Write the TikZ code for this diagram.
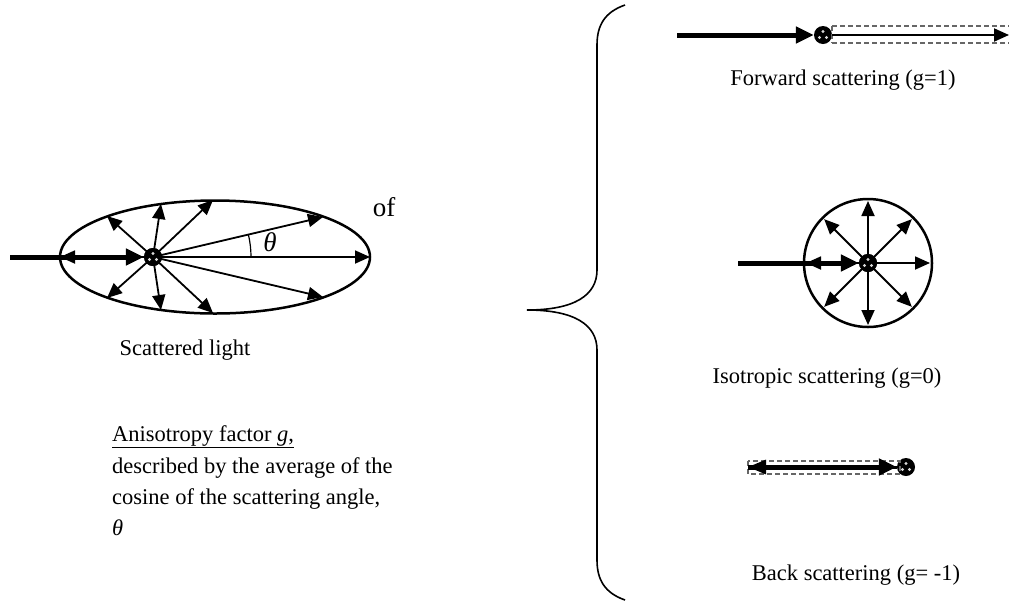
\documentclass[tikz,border=0pt]{standalone}
\usepackage{fontspec}
\setmainfont{Liberation Serif}
\usetikzlibrary{arrows.meta}
\tikzset{
  lbl/.style={font=\fontsize{22.5}{28}\selectfont, inner sep=0pt},
  big lbl/.style={font=\fontsize{27}{32}\selectfont, inner sep=0pt},
  thin arr/.style={line width=1.8pt, -{Triangle[length=15pt,width=13pt]}},
  thick arr/.style={line width=5pt, -{Triangle[length=18pt,width=16pt]}},
  boundary/.style={line width=2.5pt},
  dashbox/.style={draw=gray!80!black, line width=1.6pt, dash pattern=on 5pt off 3pt},
  particle/.style={circle, fill=black, minimum size=18pt, inner sep=0pt},
}
\newcommand{\partdots}[1]{%
  \fill[white!85!black] ([shift={(-3.5pt,-2.5pt)}]#1) circle (1.6pt);
  \fill[white!85!black] ([shift={(3.5pt,-2.5pt)}]#1) circle (1.6pt);
  \fill[white!85!black] ([shift={(0pt,3.5pt)}]#1) circle (1.6pt);}
\begin{document}
\begin{tikzpicture}[x=1pt,y=-1pt]
\useasboundingbox (0,0) rectangle (1009,606);
% ---------- left ellipse ----------
\draw[boundary] (215,257) ellipse [x radius=155, y radius=56.5];
\coordinate (inL) at (10,257);
\node[particle] (P) at (153,257) {};
\coordinate (e0) at (370,257);
\coordinate (e1) at (323,217);
\coordinate (e2) at (213,200);
\coordinate (e3) at (161,204);
\coordinate (e4) at (107,216);
\coordinate (e5) at (60,257);
\coordinate (e6) at (107,298);
\coordinate (e7) at (161,310);
\coordinate (e8) at (213,313);
\coordinate (e9) at (323,297);
\draw[thick arr] (inL) -- (P.west);
\foreach \e in {e0,e1,e2,e3,e4,e5,e6,e7,e8,e9}
  \draw[thin arr] (P.center) -- (\e);
\node[particle] (P2) at (153,257) {};
\partdots{P2}
\draw[line width=1.2pt] (251,257) arc[start angle=0, end angle=-13.4, radius=98];
\node[big lbl] (theta) at (270,242) {\textit{θ}};
\node[big lbl] (of) at (384,207) {of};
\node[lbl] (scl) at (185,350) {Scattered light};
\node[lbl, anchor=base west] (a1) at (112,441) {\underline{Anisotropy factor \textit{g},}};
\node[lbl, anchor=base west] (a2) at (112,473) {described by the average of the};
\node[lbl, anchor=base west] (a3) at (112,504) {cosine of the scattering angle,};
\node[lbl, anchor=base west] (a4) at (112,535) {\textit{θ}};
% ---------- brace ----------
\draw[line width=1.6pt] (625,5) .. controls (605,12) and (597,25) .. (597,45)
  -- (597,270) .. controls (597,295) and (575,310) .. (527,310)
  .. controls (575,310) and (597,325) .. (597,350)
  -- (597,560) .. controls (597,580) and (605,593) .. (625,600);
% ---------- forward ----------
\coordinate (fin) at (677,35);
\node[particle] (F) at (823,35) {};
\coordinate (fout) at (1009,35);
\draw[dashbox] (832,26) -- (1012,26) (832,43) -- (1012,43) (832,26) -- (832,43);
\draw[thick arr] (fin) -- (F.west);
\draw[line width=2pt, -{Triangle[length=15pt,width=13pt]}] (F.east) -- (fout);
\partdots{F}
\node[lbl] (ft) at (843,80) {Forward scattering (g=1)};
% ---------- isotropic ----------
\draw[boundary] (868,263) circle (64);
\node[particle] (I) at (868,263) {};
\coordinate (iin) at (738,263);
\draw[thick arr] (iin) -- (I.west);
\foreach \a in {0,45,...,315}
  \draw[thin arr] (I.center) -- ++(\a:62);
\node[particle] (I2) at (868,263) {};
\partdots{I2}
\node[lbl] (it) at (827,378) {Isotropic scattering (g=0)};
% ---------- back ----------
\node[particle] (B) at (906,467) {};
\coordinate (bl) at (748,467);
\draw[dashbox] (748,461) rectangle (900,474);
\draw[thick arr] (bl) -- (B.west);
\draw[line width=3pt, -{Triangle[length=18pt,width=14pt]}] (B.west) -- (bl);
\partdots{B}
\node[lbl] (bt) at (856,575) {Back scattering (g= -1)};
\end{tikzpicture}
\end{document}
